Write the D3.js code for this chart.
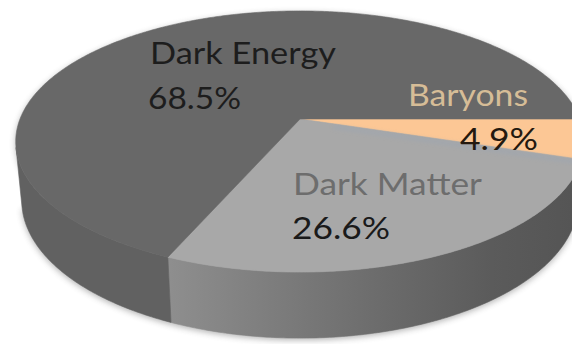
<!DOCTYPE html>
<html>
<head>
<meta charset="utf-8">
<script src="https://cdn.jsdelivr.net/npm/d3@7"></script>
<style>
  html, body { margin: 0; padding: 0; background: #ffffff; }
  svg { display: block; }
</style>
</head>
<body>
<svg id="chart" width="572" height="344"></svg>
<script>
// Composition of the universe (share of total energy density, %)
const categories = ["Baryons", "Dark Matter", "Dark Energy"];
const shares = [4.9, 26.6, 68.5];

// Slice styling
const topColors = ["#fcc795", "#a8a8a8", "#686868"];
const sideStops = [
  [["0%", "#e0a878"], ["100%", "#b98456"]],
  [["0%", "#8e8e8e"], ["30%", "#7a7a7a"], ["55%", "#6a6a6a"], ["80%", "#5b5b5b"], ["100%", "#555555"]],
  [["0%", "#616161"], ["100%", "#575757"]]
];
const nameColors = ["#d6bd97", "#6d6d6d", "#1d1d1d"];
const valueColors = ["#24190f", "#1a1a1a", "#1d1d1d"];

const svg = d3.select("#chart");

// Perspective camera looking down on a unit disc
const cx = 300, cy = 119;        // projected centre of the disc
const theta = 26.9 * Math.PI / 180;
const dist = 5.17;               // camera distance in disc radii
const focal = 280 * dist;        // the disc spans ~280 px at its centre depth
const thick = 0.237;             // disc thickness in radii
const sT = Math.sin(theta), cT = Math.cos(theta);

function project(phi, z) {
  const X = Math.cos(phi), Y = Math.sin(phi);
  const depth = dist + Y * cT - z * sT;
  return [cx + focal * X / depth, cy - focal * (Y * sT + z * cT) / depth];
}
function projectCentre(z) {
  const depth = dist - z * sT;
  return [cx, cy - focal * (z * cT) / depth];
}

// Angles from d3.pie, measured clockwise seen from above, starting at +X
const arcs = d3.pie().sort(null).value(d => d)
  .startAngle(0).endAngle(2 * Math.PI)(shares);

const line = d3.line();
function arcPoints(phiFrom, phiTo, z) {
  const n = Math.max(8, Math.ceil(Math.abs(phiTo - phiFrom) / 0.01));
  return d3.range(n + 1).map(i => project(phiFrom + (phiTo - phiFrom) * i / n, z));
}

const defs = svg.append("defs");
sideStops.forEach((stops, i) => {
  const g = defs.append("linearGradient")
    .attr("id", "side" + i)
    .attr("gradientUnits", "userSpaceOnUse")
    .attr("x1", 170).attr("x2", 572).attr("y1", 0).attr("y2", 0);
  stops.forEach(s => g.append("stop").attr("offset", s[0]).attr("stop-color", s[1]));
});
defs.append("filter").attr("id", "soft").attr("x", "-10%").attr("y", "-10%")
  .attr("width", "120%").attr("height", "130%")
  .append("feGaussianBlur").attr("stdDeviation", 3.2);
defs.append("filter").attr("id", "tint").append("feGaussianBlur").attr("stdDeviation", 2.2);

// Tangent angle where the side wall turns away from the camera
const beta = Math.asin(1 / (dist * cT));
const topRing = arcPoints(0, 2 * Math.PI, 0);
const bottomRing = arcPoints(-beta, -Math.PI + beta, -thick);

// Soft drop shadow under the disc
svg.append("g").attr("filter", "url(#soft)").attr("opacity", 0.45)
  .selectAll("path").data([topRing, bottomRing]).join("path")
  .attr("d", d => line(d) + "Z")
  .attr("transform", "translate(0,2)")
  .attr("fill", "#555");

// Visible side walls (front half of the cylinder)
const sides = svg.append("g");
arcs.forEach((a, i) => {
  const hi = Math.min(-a.startAngle, -beta);
  const lo = Math.max(-a.endAngle, -Math.PI + beta);
  if (lo >= hi) return;
  const pts = arcPoints(hi, lo, 0).concat(arcPoints(lo, hi, -thick));
  sides.append("path")
    .attr("d", line(pts) + "Z")
    .attr("fill", "url(#side" + i + ")")
    .attr("stroke", "url(#side" + i + ")")
    .attr("stroke-width", 0.6);
});

// Top faces
const tops = svg.append("g");
arcs.forEach((a, i) => {
  const pts = [projectCentre(0)].concat(arcPoints(-a.startAngle, -a.endAngle, 0));
  tops.append("path")
    .attr("d", line(pts) + "Z")
    .attr("fill", topColors[i])
    .attr("stroke", topColors[i])
    .attr("stroke-width", 0.6)
    .attr("stroke-linejoin", "round");
});

// Faint bluish sheen along the Baryons / Dark Matter edge
const edgeEnd = project(-arcs[0].endAngle, 0);
const c0 = projectCentre(0);
const sheen = [0.12, 0.98].map(t =>
  [c0[0] + (edgeEnd[0] - c0[0]) * t, c0[1] + (edgeEnd[1] - c0[1]) * t + 3]);
svg.append("path").attr("d", line(sheen))
  .attr("stroke", "#97a4b6").attr("stroke-width", 3).attr("opacity", 0.55)
  .attr("fill", "none").attr("filter", "url(#tint)");

// Labels: name on one line, value underneath
const labelFont = "Lato, 'Open Sans', sans-serif";
const labelLayout = [
  { name: [408, 106, 120, "start"], value: [538, 150, 78, "end"] },
  { name: [293, 195, 189, "start"], value: [292, 239, 98, "start"] },
  { name: [150, 64, 186, "start"], value: [148, 109, 93, "start"] }
];
const labels = svg.append("g").attr("font-family", labelFont).attr("font-size", 30);
categories.forEach((c, i) => {
  const L = labelLayout[i];
  labels.append("text")
    .attr("x", L.name[0]).attr("y", L.name[1])
    .attr("fill", nameColors[i])
    .attr("textLength", L.name[2]).attr("lengthAdjust", "spacingAndGlyphs")
    .text(c);
  labels.append("text")
    .attr("x", L.value[3] === "end" ? L.value[0] - L.value[2] : L.value[0])
    .attr("y", L.value[1])
    .attr("fill", valueColors[i])
    .attr("textLength", L.value[2]).attr("lengthAdjust", "spacingAndGlyphs")
    .text(d3.format(".1f")(shares[i]) + "%");
});
</script>
</body>
</html>
